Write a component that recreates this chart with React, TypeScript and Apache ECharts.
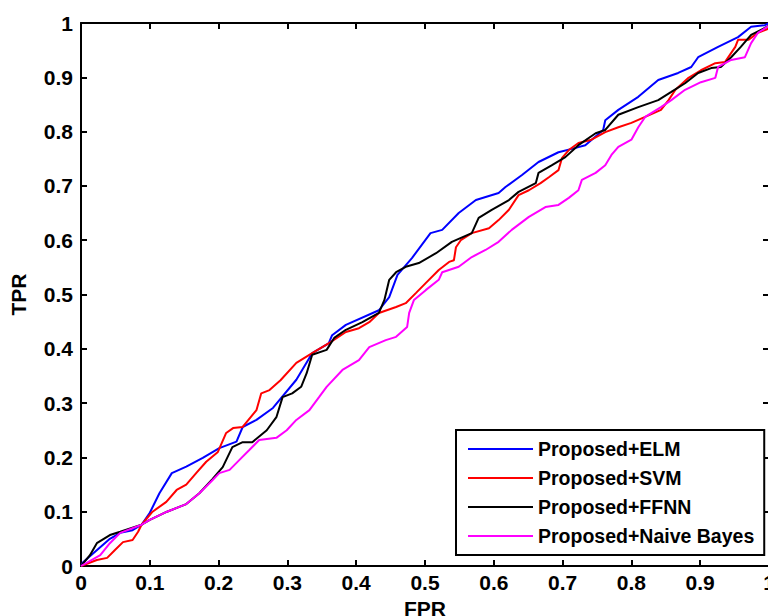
import React, { useEffect, useRef } from "react";
import * as echarts from "echarts";

const seriesNames = ["Proposed+ELM", "Proposed+SVM", "Proposed+FFNN", "Proposed+Naive Bayes"];
const seriesColors = ["#0000ff", "#ff0000", "#000000", "#ff00ff"];

const elmPoints = [
  [0, 0], [0.003, 0.007], [0.042, 0.05], [0.057, 0.061], [0.075, 0.066], [0.088, 0.076],
  [0.1, 0.098], [0.114, 0.134], [0.132, 0.171], [0.153, 0.183], [0.177, 0.199], [0.201, 0.217],
  [0.226, 0.229], [0.235, 0.256], [0.255, 0.269], [0.279, 0.291], [0.313, 0.343], [0.336, 0.392],
  [0.36, 0.41], [0.365, 0.425], [0.385, 0.444], [0.433, 0.471], [0.448, 0.495], [0.46, 0.536],
  [0.481, 0.567], [0.508, 0.613], [0.525, 0.619], [0.549, 0.65], [0.574, 0.674], [0.607, 0.687],
  [0.617, 0.698], [0.641, 0.72], [0.665, 0.744], [0.694, 0.762], [0.719, 0.77], [0.733, 0.775],
  [0.759, 0.803], [0.762, 0.821], [0.781, 0.84], [0.81, 0.864], [0.839, 0.895], [0.868, 0.908],
  [0.887, 0.919], [0.897, 0.937], [0.926, 0.956], [0.955, 0.974], [0.974, 0.993], [0.994, 0.996],
  [1, 1],
];

const svmPoints = [
  [0, 0], [0.023, 0.011], [0.038, 0.015], [0.049, 0.029], [0.061, 0.044], [0.075, 0.048],
  [0.083, 0.063], [0.088, 0.076], [0.104, 0.1], [0.124, 0.118], [0.139, 0.14], [0.153, 0.15],
  [0.168, 0.172], [0.182, 0.192], [0.199, 0.21], [0.211, 0.245], [0.221, 0.254], [0.235, 0.256],
  [0.255, 0.287], [0.262, 0.318], [0.274, 0.324], [0.29, 0.342], [0.313, 0.374], [0.336, 0.392],
  [0.361, 0.411], [0.385, 0.431], [0.404, 0.438], [0.419, 0.449], [0.433, 0.466], [0.458, 0.477],
  [0.472, 0.484], [0.487, 0.503], [0.501, 0.521], [0.52, 0.545], [0.535, 0.56], [0.542, 0.563],
  [0.545, 0.587], [0.552, 0.6], [0.568, 0.613], [0.593, 0.622], [0.607, 0.637], [0.622, 0.656],
  [0.636, 0.683], [0.651, 0.692], [0.668, 0.705], [0.68, 0.716], [0.694, 0.729], [0.699, 0.751],
  [0.709, 0.766], [0.723, 0.779], [0.742, 0.785], [0.762, 0.799], [0.781, 0.808], [0.8, 0.816],
  [0.82, 0.827], [0.843, 0.84], [0.854, 0.858], [0.864, 0.877], [0.883, 0.899], [0.901, 0.913],
  [0.922, 0.926], [0.936, 0.928], [0.951, 0.956], [0.955, 0.969], [0.97, 0.969], [0.984, 0.982],
  [1, 0.99],
];

const ffnnPoints = [
  [0, 0], [0.013, 0.02], [0.023, 0.042], [0.042, 0.057], [0.057, 0.063], [0.088, 0.076],
  [0.1, 0.085], [0.125, 0.1], [0.153, 0.114], [0.172, 0.134], [0.191, 0.16], [0.206, 0.182],
  [0.22, 0.219], [0.235, 0.228], [0.249, 0.228], [0.27, 0.25], [0.284, 0.274], [0.293, 0.311],
  [0.307, 0.318], [0.32, 0.33], [0.328, 0.355], [0.336, 0.389], [0.357, 0.398], [0.368, 0.42],
  [0.385, 0.435], [0.409, 0.449], [0.433, 0.466], [0.441, 0.49], [0.448, 0.527], [0.458, 0.541],
  [0.472, 0.551], [0.491, 0.558], [0.516, 0.576], [0.539, 0.597], [0.568, 0.613], [0.578, 0.641],
  [0.597, 0.656], [0.622, 0.674], [0.636, 0.689], [0.661, 0.705], [0.665, 0.724], [0.684, 0.738],
  [0.704, 0.753], [0.723, 0.775], [0.748, 0.797], [0.762, 0.803], [0.781, 0.831], [0.81, 0.845],
  [0.839, 0.858], [0.858, 0.873], [0.878, 0.889], [0.897, 0.908], [0.916, 0.917], [0.93, 0.919],
  [0.945, 0.937], [0.959, 0.956], [0.974, 0.978], [0.994, 0.991], [1, 0.995],
];

const bayesPoints = [
  [0, 0], [0.028, 0.02], [0.042, 0.042], [0.057, 0.061], [0.088, 0.076], [0.1, 0.085],
  [0.125, 0.1], [0.153, 0.114], [0.172, 0.134], [0.191, 0.158], [0.201, 0.171], [0.216, 0.177],
  [0.23, 0.195], [0.245, 0.214], [0.259, 0.232], [0.284, 0.236], [0.299, 0.25], [0.313, 0.269],
  [0.332, 0.287], [0.346, 0.311], [0.357, 0.33], [0.38, 0.361], [0.404, 0.379], [0.419, 0.403],
  [0.443, 0.416], [0.458, 0.422], [0.474, 0.44], [0.477, 0.466], [0.484, 0.49], [0.501, 0.508],
  [0.52, 0.527], [0.525, 0.541], [0.549, 0.551], [0.568, 0.569], [0.588, 0.582], [0.607, 0.597],
  [0.626, 0.619], [0.651, 0.643], [0.675, 0.661], [0.694, 0.665], [0.709, 0.678], [0.723, 0.692],
  [0.728, 0.711], [0.748, 0.724], [0.762, 0.738], [0.771, 0.757], [0.781, 0.772], [0.8, 0.785],
  [0.81, 0.808], [0.82, 0.827], [0.843, 0.845], [0.858, 0.858], [0.878, 0.877], [0.901, 0.891],
  [0.922, 0.899], [0.926, 0.919], [0.945, 0.932], [0.965, 0.937], [0.974, 0.963], [0.984, 0.982],
  [1, 0.995],
];

const allPoints = [elmPoints, svmPoints, ffnnPoints, bayesPoints];

const FONT = "'Liberation Sans', Arial, Helvetica, sans-serif";

export default function App() {
  const ref = useRef<HTMLDivElement>(null);

  useEffect(() => {
    if (!ref.current) return;
    const chart = echarts.init(ref.current, undefined, { renderer: "svg" });

    const axisLine = { show: true, onZero: false, lineStyle: { color: "#000", width: 2 } };
    const axisTick = { show: true, inside: true, length: 6, lineStyle: { color: "#000", width: 2 } };
    const labelStyle = { color: "#000", fontSize: 21, fontWeight: "bold" as const, fontFamily: FONT };

    chart.setOption({
      animation: false,
      backgroundColor: "#fff",
      grid: {
        left: 81,
        top: 23,
        width: 688,
        height: 543,
        containLabel: false,
        outerBoundsMode: "none",
      },
      legend: {
        orient: "vertical",
        left: 456,
        top: 430,
        data: seriesNames,
        icon: "rect",
        itemWidth: 65,
        itemHeight: 2,
        itemGap: 9,
        padding: [9, 10, 9, 12],
        borderColor: "#000",
        borderWidth: 2,
        backgroundColor: "#fff",
        textStyle: { color: "#000", fontSize: 19.5, fontWeight: "bold", fontFamily: FONT, lineHeight: 20 },
      },
      xAxis: [
        {
          type: "value",
          min: 0,
          max: 1,
          interval: 0.1,
          position: "bottom",
          name: "FPR",
          nameLocation: "middle",
          nameGap: 31,
          nameTextStyle: labelStyle,
          axisLine,
          axisTick,
          splitLine: { show: false },
          axisLabel: { ...labelStyle, margin: 6 },
        },
        {
          type: "value",
          min: 0,
          max: 1,
          interval: 0.1,
          position: "top",
          axisLine,
          axisTick,
          splitLine: { show: false },
          axisLabel: { show: false },
        },
      ],
      yAxis: [
        {
          type: "value",
          min: 0,
          max: 1,
          interval: 0.1,
          position: "left",
          name: "TPR",
          nameLocation: "middle",
          nameGap: 52,
          nameRotate: 90,
          nameTextStyle: labelStyle,
          axisLine,
          axisTick,
          splitLine: { show: false },
          axisLabel: { ...labelStyle, margin: 8 },
        },
        {
          type: "value",
          min: 0,
          max: 1,
          interval: 0.1,
          position: "right",
          axisLine,
          axisTick,
          splitLine: { show: false },
          axisLabel: { show: false },
        },
      ],
      series: seriesNames.map((name, i) => ({
        name,
        type: "line",
        xAxisIndex: 0,
        yAxisIndex: 0,
        data: allPoints[i],
        symbol: "none",
        showSymbol: false,
        color: seriesColors[i],
        itemStyle: { color: seriesColors[i] },
        lineStyle: { color: seriesColors[i], width: 2 },
        z: 2 + i,
      })),
    });

    return () => chart.dispose();
  }, []);

  return (
    <div
      ref={ref}
      style={{ position: "fixed", left: 0, top: 0, width: 768, height: 616, background: "#fff" }}
    />
  );
}
